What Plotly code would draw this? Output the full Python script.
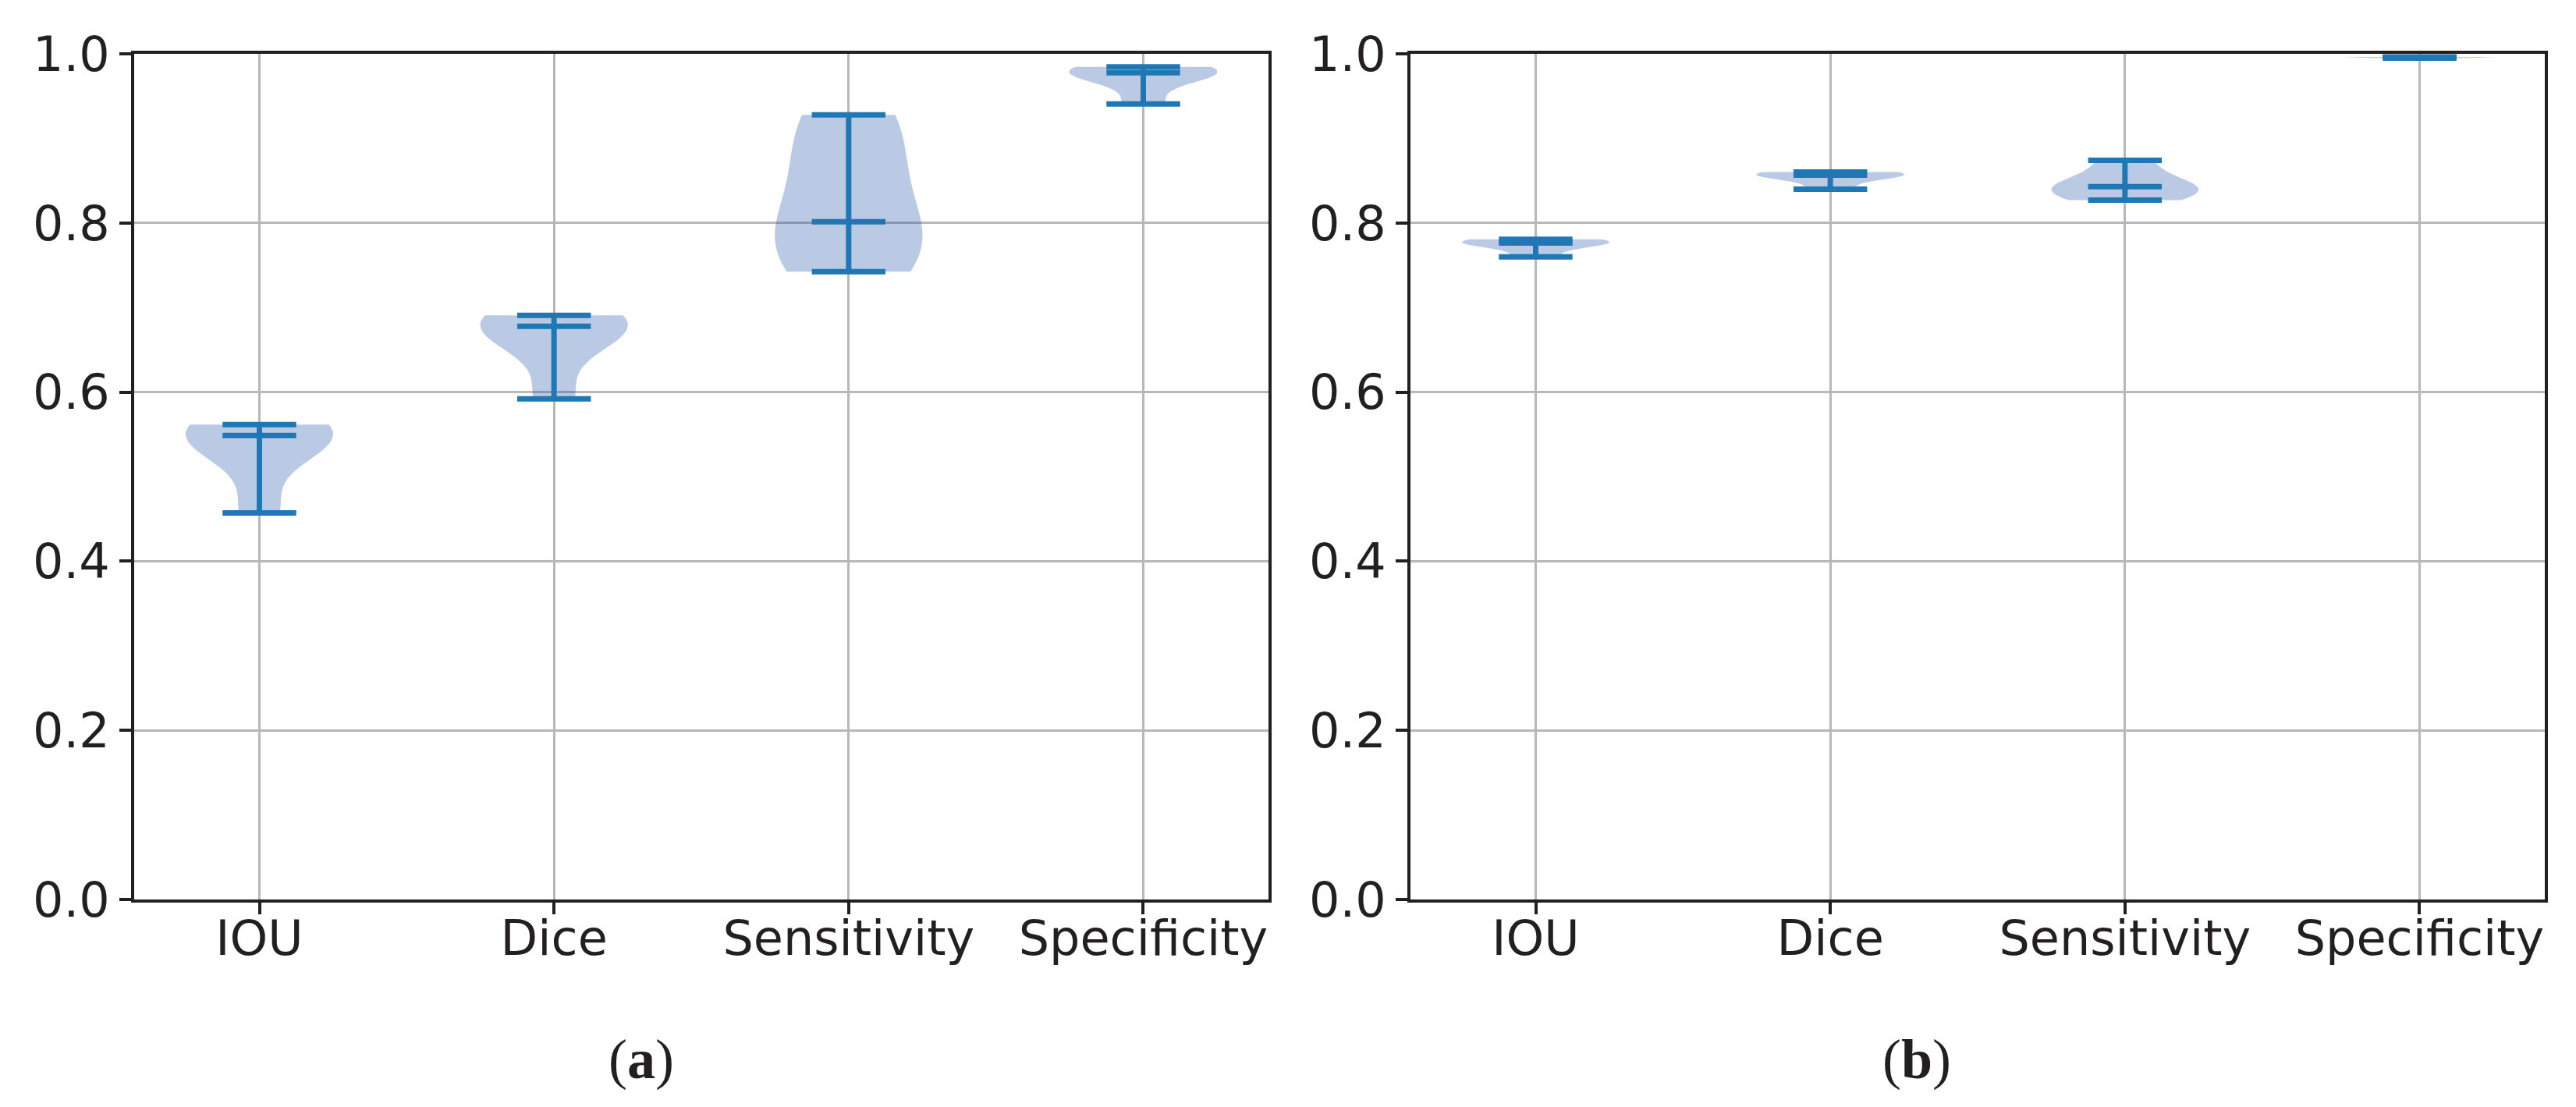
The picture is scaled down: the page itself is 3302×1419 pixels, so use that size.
import numpy as np
import plotly.graph_objects as go

# ---- data ----
metrics = ["IOU", "Dice", "Sensitivity", "Specificity"]
positions = [1, 2, 3, 4]

# panel (a)
iou_a = [0.457, 0.535, 0.5486, 0.556, 0.5615]
dice_a = [0.592, 0.664, 0.6778, 0.685, 0.6907]
sens_a = [0.7423, 0.775, 0.8014, 0.885, 0.9278]
spec_a = [0.9407, 0.972, 0.9777, 0.981, 0.9846]

# panel (b)
iou_b = [0.760, 0.773, 0.7763, 0.779, 0.7806]
dice_b = [0.840, 0.853, 0.8566, 0.859, 0.8602]
sens_b = [0.827, 0.835, 0.843, 0.850, 0.874]
spec_b = [0.9950, 0.9955, 0.9958, 0.9961, 0.9963]

y_ticks = [0.0, 0.2, 0.4, 0.6, 0.8, 1.0]
y_ticktext = ["0.0", "0.2", "0.4", "0.6", "0.8", "1.0"]
panel_labels = ["(<b>a</b>)", "(<b>b</b>)"]

# ---- style ----
FILL = "rgba(25,78,165,0.30)"
LINE = "#1f77b4"
TEXT = "#231f20"
GRID = "#b8b8b8"
FONT = "DejaVu Sans"

W, H = 3302, 1419
x_domains = [[172 / W, 1626 / W], [1808 / W, 3262 / W]]
y_domain = [(H - 1153) / H, (H - 69) / H]

fig = go.Figure()

panels = [
    ("x", "y", [iou_a, dice_a, sens_a, spec_a]),
    ("x2", "y2", [iou_b, dice_b, sens_b, spec_b]),
]

for xa, ya, arrays in panels:
    seg_x, seg_y = [], []
    for pos, vals in zip(positions, arrays):
        v = np.asarray(vals, dtype=float)
        n = len(v)
        bw = v.std(ddof=1) * n ** (-1 / 5)  # Scott's rule, like matplotlib
        fig.add_trace(go.Violin(
            x=[pos] * n, y=v, xaxis=xa, yaxis=ya,
            width=0.5, bandwidth=bw, spanmode="hard", scalemode="width",
            fillcolor=FILL, line=dict(width=0, color=FILL),
            points=False, box_visible=False, meanline_visible=False,
            showlegend=False, hoverinfo="y",
        ))
        vmin, vmax, vmed = v.min(), v.max(), float(np.median(v))
        seg_x += [pos, pos, None]
        seg_y += [vmin, vmax, None]
        for yv in (vmax, vmin, vmed):
            seg_x += [pos - 0.125, pos + 0.125, None]
            seg_y += [yv, yv, None]
    fig.add_trace(go.Scatter(
        x=seg_x, y=seg_y, xaxis=xa, yaxis=ya, mode="lines",
        line=dict(color=LINE, width=7), showlegend=False, hoverinfo="skip",
        cliponaxis=True,
    ))

axis_common = dict(
    showgrid=True, gridcolor=GRID, gridwidth=3.3,
    showline=True, linecolor=TEXT, linewidth=4, mirror=True,
    ticks="outside", ticklen=15, tickwidth=4, tickcolor=TEXT,
    tickfont=dict(family=FONT, size=62, color=TEXT),
    zeroline=False, automargin=False,
)

layout = dict(
    width=W, height=H,
    margin=dict(l=0, r=0, t=0, b=0, pad=0),
    paper_bgcolor="white", plot_bgcolor="white",
    violinmode="overlay",
    showlegend=False,
)
for k, (xname, yname) in enumerate([("xaxis", "yaxis"), ("xaxis2", "yaxis2")]):
    suffix = "" if k == 0 else "2"
    layout[xname] = dict(
        axis_common, domain=x_domains[k], range=[0.575, 4.425],
        tickmode="array", tickvals=positions, ticktext=metrics,
        anchor="y" + suffix, ticklabelstandoff=-22,
    )
    layout[yname] = dict(
        axis_common, domain=y_domain, range=[0, 1],
        tickmode="array", tickvals=y_ticks, ticktext=y_ticktext,
        anchor="x" + suffix, ticklabelstandoff=0,
    )

fig.update_layout(**layout)

for lab, xc in zip(panel_labels, [0.249, 0.744]):
    fig.add_annotation(
        text=lab, x=xc, y=0.043, xref="paper", yref="paper",
        xanchor="center", yanchor="middle", showarrow=False,
        font=dict(family="Liberation Serif", size=72, color=TEXT),
    )

fig.write_html(
    "out.html",
    config={"displayModeBar": False},
    post_script="document.body.style.margin='0';document.body.style.overflow='hidden';",
)
